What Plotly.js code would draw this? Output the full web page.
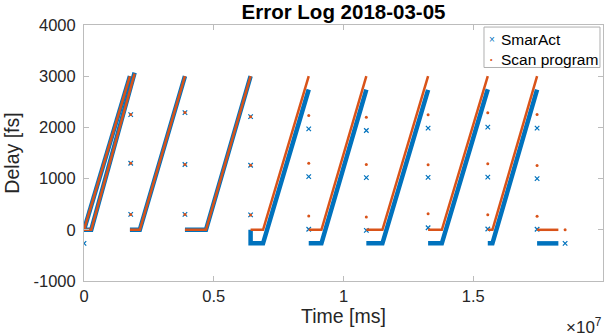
<!DOCTYPE html>
<html>
<head>
<meta charset="utf-8">
<script src="https://cdn.plot.ly/plotly-3.0.1.min.js"></script>
<style>
  html, body { margin: 0; padding: 0; background: #fff; }
  #chart { width: 606px; height: 336px; }
</style>
</head>
<body>
<div id="chart"></div>
<script>
// Time in ms, delay in fs. null separates the individual scan passes.
const scanLineTime = [0, 1.77e6, null, 0, 0.28e6, 1.95e6, null,
  1.77e6, 2.15e6, 3.89e6, null, 3.89e6, 4.70e6, 6.42e6, null,
  6.42e6, 6.90e6, 8.66e6, null, 8.66e6, 9.15e6, 1.088e7, null,
  1.088e7, 1.150e7, 1.326e7, null, 1.326e7, 1.379e7, 1.556e7, null,
  1.556e7, 1.574e7, 1.746e7, null, 1.746e7, 1.828e7];
const scanLineDelay = [0, 3000, null, 0, 0, 3050, null,
  0, 0, 3000, null, 0, 0, 3000, null,
  0, 0, 3000, null, 0, 0, 3000, null,
  0, 0, 3000, null, 0, 0, 3000, null,
  0, 0, 3000, null, 0, 0];

const smarActLineTime = [0, 1.77e6, null, 0, 0.28e6, 1.95e6, null,
  1.77e6, 2.15e6, 3.89e6, null, 3.89e6, 4.70e6, 6.42e6, null,
  6.42e6, 6.42e6, 6.90e6, 8.66e6, null, 8.66e6, 9.15e6, 1.088e7, null,
  1.088e7, 1.150e7, 1.326e7, null, 1.326e7, 1.379e7, 1.556e7, null,
  1.556e7, 1.574e7, 1.746e7, null, 1.746e7, 1.828e7];
const smarActLineDelay = [0, 3000, null, 0, 0, 3070, null,
  0, 0, 3000, null, 0, 0, 3000, null,
  0, -265, -265, 2740, null, -265, -265, 2740, null,
  -265, -265, 2735, null, -265, -265, 2745, null,
  -265, -265, 2740, null, -265, -265];

// Samples taken while the stage flies back to the start of a pass
const scanPointTime = [1.80e6, 1.80e6, 1.80e6, 3.89e6, 3.89e6, 3.89e6,
  6.42e6, 6.42e6, 6.42e6, 8.66e6, 8.66e6, 8.66e6, 1.088e7, 1.088e7, 1.088e7,
  1.326e7, 1.326e7, 1.326e7, 1.556e7, 1.556e7, 1.556e7, 1.746e7, 1.746e7, 1.746e7,
  1.854e7];
const scanPointDelay = [2250, 1300, 300, 2290, 1275, 300,
  2210, 1260, 290, 2230, 1300, 270, 2200, 1275, 250,
  2245, 1270, 315, 2285, 1290, 295, 2250, 1255, 263,
  0];

const smarActPointTime = [0, 1.80e6, 1.80e6, 1.80e6, 3.89e6, 3.89e6, 3.89e6,
  6.42e6, 6.42e6, 6.42e6, 8.66e6, 8.66e6, 8.66e6, 1.088e7, 1.088e7, 1.088e7,
  1.326e7, 1.326e7, 1.326e7, 1.556e7, 1.556e7, 1.556e7, 1.746e7, 1.746e7, 1.746e7,
  1.854e7];
const smarActPointDelay = [-265, 2250, 1300, 300, 2290, 1275, 300,
  2210, 1260, 290, 1970, 1040, 10, 1940, 1020, -10,
  1985, 1025, 40, 2005, 1030, 15, 1985, 1000, 10,
  -265];

const xTickVals = [0, 0.5e7, 1e7, 1.5e7, 2e7];
const xTickText = ['0', '0.5', '1', '1.5', '2'];
const yTickVals = [-1000, 0, 1000, 2000, 3000, 4000];
const yTickText = ['-1000', '0', '1000', '2000', '3000', '4000'];
const seriesNames = ['SmarAct', 'Scan program'];

const BLUE = '#0072BD';
const ORANGE = '#D95319';
const FONT = 'Liberation Sans, Arial, Helvetica, sans-serif';
const AXIS_GREY = '#bcbcbc';
const TEXT = '#262626';

const traces = [
  { x: smarActLineTime, y: smarActLineDelay, type: 'scatter', mode: 'lines',
    line: { color: BLUE, width: 4.5 }, showlegend: false, hoverinfo: 'skip' },
  { x: smarActPointTime, y: smarActPointDelay, type: 'scatter', mode: 'markers',
    name: seriesNames[0], showlegend: false,
    marker: { symbol: 'x-thin', size: 4.5, color: BLUE, line: { color: BLUE, width: 1.2 } } },
  { x: scanLineTime, y: scanLineDelay, type: 'scatter', mode: 'lines',
    line: { color: ORANGE, width: 2.5 }, showlegend: false, hoverinfo: 'skip' },
  { x: scanPointTime, y: scanPointDelay, type: 'scatter', mode: 'markers',
    name: seriesNames[1], showlegend: false,
    marker: { symbol: 'circle', size: 3, color: ORANGE, line: { width: 0 } } }
];

const axisCommon = {
  showline: true, linecolor: AXIS_GREY, linewidth: 1, mirror: 'ticks',
  ticks: 'inside', ticklen: 5, tickcolor: AXIS_GREY, tickwidth: 1,
  showgrid: false, zeroline: false,
  tickfont: { family: FONT, size: 16.5, color: TEXT }
};

// Compact MATLAB-style legend box in the upper right corner of the axes
const legendBox = { x0: 0.7707, x1: 0.9942, y0: 0.834, y1: 0.992 };
const legendRowsY = [0.9434, 0.8633];
const legendKeyX = 0.7855;
const legendTextX = 0.7996;

const legendAnnotations = [
  { text: '×', x: legendKeyX, y: legendRowsY[0], xanchor: 'center', yanchor: 'middle',
    font: { family: FONT, size: 10, color: BLUE } },
  { text: '•', x: legendKeyX, y: legendRowsY[1], xanchor: 'center', yanchor: 'middle',
    font: { family: FONT, size: 7, color: ORANGE } },
  { text: seriesNames[0], x: legendTextX, y: legendRowsY[0], xanchor: 'left', yanchor: 'middle',
    font: { family: FONT, size: 15.5, color: '#000' } },
  { text: seriesNames[1], x: legendTextX, y: legendRowsY[1], xanchor: 'left', yanchor: 'middle',
    font: { family: FONT, size: 15.5, color: '#000' } }
].map(a => Object.assign({ xref: 'paper', yref: 'paper', showarrow: false }, a));

const layout = {
  width: 606, height: 336,
  margin: { l: 84, r: 3, t: 25, b: 55 },
  paper_bgcolor: '#fff', plot_bgcolor: '#fff',
  showlegend: false,
  title: {
    text: 'Error Log 2018-03-05',
    font: { family: FONT, size: 20.5, color: '#000', weight: 'bold' },
    xref: 'paper', x: 0.5, xanchor: 'center',
    yref: 'container', y: 1 - 12 / 336, yanchor: 'middle'
  },
  xaxis: Object.assign({}, axisCommon, {
    range: [0, 2e7], tickmode: 'array', tickvals: xTickVals, ticktext: xTickText,
    title: { text: 'Time [ms]', font: { family: FONT, size: 19.5, color: TEXT }, standoff: 5 }
  }),
  yaxis: Object.assign({}, axisCommon, {
    range: [-1000, 4000], tickmode: 'array', tickvals: yTickVals, ticktext: yTickText,
    ticklabelstandoff: 4,
    title: { text: 'Delay [fs]', font: { family: FONT, size: 19.5, color: TEXT }, standoff: 8 }
  }),
  shapes: [{
    type: 'rect', xref: 'paper', yref: 'paper',
    x0: legendBox.x0, x1: legendBox.x1, y0: legendBox.y0, y1: legendBox.y1,
    line: { color: '#b0b0b0', width: 1 }, fillcolor: '#fff', layer: 'above'
  }],
  annotations: [{
    text: '×10<sup>7</sup>', xref: 'paper', yref: 'paper',
    x: 1.002, xanchor: 'right', y: -0.175, yanchor: 'middle',
    showarrow: false, font: { family: FONT, size: 17, color: TEXT }
  }].concat(legendAnnotations)
};

Plotly.newPlot('chart', traces, layout, { displayModeBar: false, staticPlot: true });
</script>
</body>
</html>
